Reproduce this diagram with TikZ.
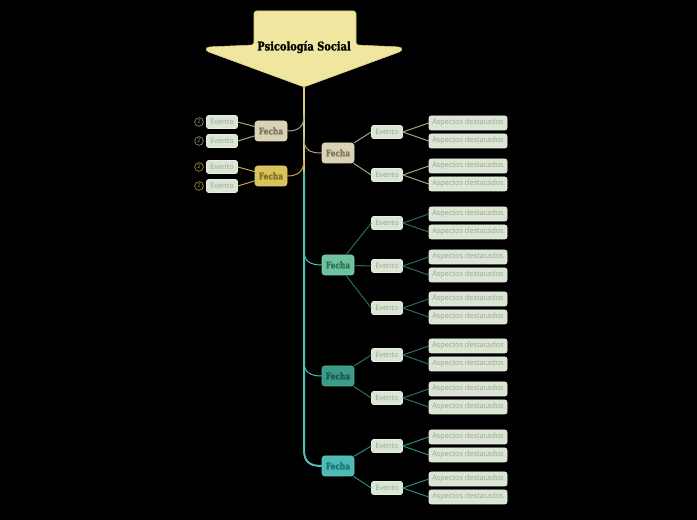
\documentclass[tikz,border=0pt]{standalone}
\usepackage{fontspec}
\usepackage{tikz}
\usetikzlibrary{arrows.meta,positioning}
\newfontfamily\titlefont{DejaVu Serif}[FakeStretch=0.82,BoldFeatures={FakeBold=1.2}]
\newfontfamily\leaffont{Open Sans}
\definecolor{RootFill}{HTML}{F0E6A0}
\definecolor{RootLine}{HTML}{D8CC80}
\definecolor{BeigeFill}{HTML}{D9D2B4}
\definecolor{BeigeText}{HTML}{7E7862}
\definecolor{BeigeLine}{HTML}{A8A28A}
\definecolor{GoldFill}{HTML}{D9C25A}
\definecolor{GoldText}{HTML}{7F6F28}
\definecolor{GoldLine}{HTML}{C2A842}
\definecolor{GreenFill}{HTML}{6CC39D}
\definecolor{GreenText}{HTML}{356E58}
\definecolor{GreenLine}{HTML}{2F6A55}
\definecolor{DeepFill}{HTML}{3A9C88}
\definecolor{DeepText}{HTML}{1D594C}
\definecolor{DeepLine}{HTML}{2A6F62}
\definecolor{TealFill}{HTML}{4ABCB5}
\definecolor{TealText}{HTML}{226E69}
\definecolor{TealLine}{HTML}{2F8783}
\definecolor{LeafFill}{HTML}{DAE5D3}
\definecolor{LeafLine}{HTML}{E8F0E4}
\definecolor{LeafText}{HTML}{9AA696}
\definecolor{SpineTeal}{HTML}{4FBFB8}

\tikzset{
  fecha/.style={draw=#1Fill!85!white,fill=#1Fill,text=#1Text,rounded corners=2pt,
    minimum width=24pt,minimum height=15pt,inner sep=0pt,
    font=\titlefont\bfseries\fontsize{6.8}{7}\selectfont},
  evento/.style={draw=LeafLine,fill=LeafFill,text=LeafText,rounded corners=1.5pt,
    minimum width=23.25pt,minimum height=9.75pt,inner sep=0pt,
    font=\leaffont\fontsize{5.5}{6}\selectfont},
  aspecto/.style={evento,minimum width=58.5pt,minimum height=10.5pt},
  badge/.style={circle,draw=#1,text=#1,minimum size=6.5pt,inner sep=0pt,
    font=\leaffont\fontsize{4}{4}\selectfont},
  rama/.style={draw=#1,line width=0.75pt},
  tallo/.style={draw=#1,line width=1.5pt}
}

\begin{document}
\begin{tikzpicture}[x=0.75pt,y=-0.75pt]
    \fill[black] (0,0) rectangle (697,520);
    \useasboundingbox (0,0) rectangle (697,520);

    % central topic
    \draw[fill=RootFill,draw=RootLine,rounded corners=2pt]
      (254,11) -- (356,11) -- (356,45) -- (401,47) -- (402,51) -- (304,87)
      -- (206,51) -- (207,47) -- (254,45) -- cycle;
    \node[font=\titlefont\bfseries\fontsize{9}{10}\selectfont,text=black] (root) at (304,47) {Psicología Social};
    \coordinate (tip) at (304,86);
    \coordinate (split) at (304,172);
    \coordinate (s1) at (304,116);
    \coordinate (s2) at (304,160);
    \coordinate (s3) at (304,139);
    \coordinate (s4) at (304,251);
    \coordinate (s5) at (304,362);
    \coordinate (s6) at (304,450);

    % fechas
    \node[fecha=Beige] (lf1) at (271,131) {Fecha};
    \node[fecha=Gold] (lf2) at (271,176) {Fecha};
    \node[fecha=Beige] (rf1) at (338,153) {Fecha};
    \node[fecha=Green] (rf2) at (338,265) {Fecha};
    \node[fecha=Deep] (rf3) at (338,376) {Fecha};
    \node[fecha=Teal] (rf4) at (338,466) {Fecha};

    % spine
    \draw[tallo=RootLine!80!GoldFill] (tip) -- (split);
    \draw[tallo=SpineTeal] (split) -- (s6) .. controls (304,462) and (310,466) .. (rf4.west);
    \draw[rama=BeigeLine] (s1) .. controls (304,127) and (298,131) .. (lf1.east);
    \draw[rama=GoldLine] (s2) .. controls (304,171) and (298,176) .. (lf2.east);
    \draw[rama=BeigeLine] (s3) .. controls (304,150) and (310,153) .. (rf1.west);
    \draw[rama=SpineTeal] (s4) .. controls (304,261) and (310,265) .. (rf2.west);
    \draw[rama=SpineTeal] (s5) .. controls (304,372) and (310,376) .. (rf3.west);

    % left eventos
    \foreach \n/\y/\f/\c in {el1/122/lf1/Beige,el2/141/lf1/Beige,el3/167/lf2/Gold,el4/186/lf2/Gold}{
      \node[evento] (\n) at (222,\y) {Evento};
      \node[badge=\c Line] (\n-b) at (199,\y) {2};
      \draw[rama=\c Line] (\n.east) -- (\f);
    }

    % right eventos
    \foreach \n/\y/\f/\c in {ea/132/rf1/Beige,eb/175/rf1/Beige,
        ec/223/rf2/Green,ed/266/rf2/Green,ee/308/rf2/Green,
        ef/355/rf3/Deep,eg/398/rf3/Deep,
        eh/446/rf4/Teal,ei/488/rf4/Teal}{
      \node[evento] (\n) at (387,\y) {Evento};
      \draw[rama=\c Line] (\f) -- (\n.west);
      \node[aspecto] (\n-1) at (468,\y-9) {Aspectos destacados};
      \node[aspecto] (\n-2) at (468,\y+9) {Aspectos destacados};
      \draw[rama=\c Line] (\n.east) -- (\n-1.west);
      \draw[rama=\c Line] (\n.east) -- (\n-2.west);
    }
  \end{tikzpicture}
\end{document}
